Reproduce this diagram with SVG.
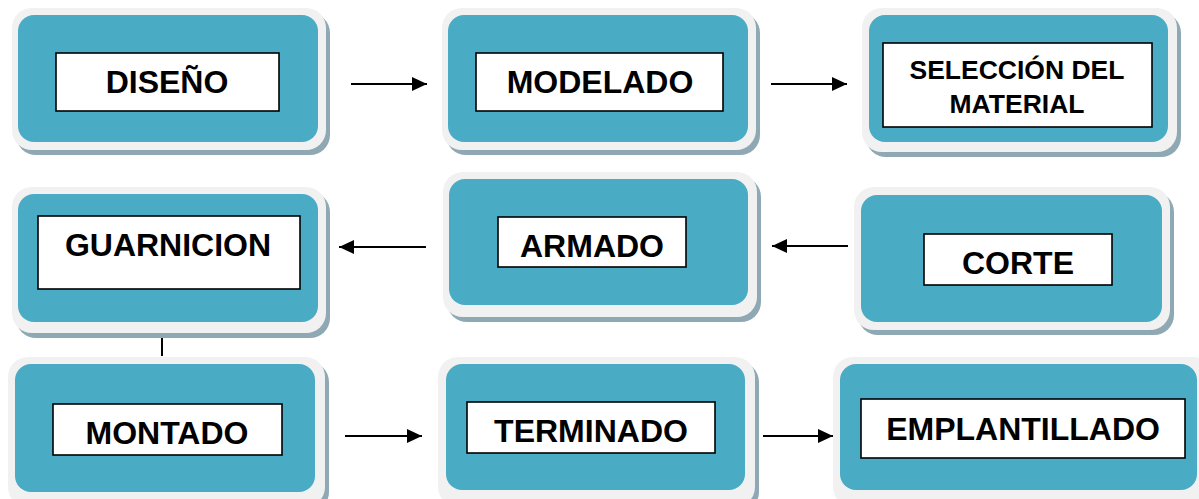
<svg xmlns="http://www.w3.org/2000/svg" width="1199" height="499" viewBox="0 0 1199 499">
<style>
.sh{fill:#8fa9b4}
.fr{fill:#f1f1f1}
.tl{fill:#4aabc5}
.bx{fill:#ffffff;stroke:#000000;stroke-width:1.6}
.t{font-family:"Liberation Sans",Arial,sans-serif;font-weight:bold;font-size:32px;fill:#000000;text-anchor:middle}
.t2{font-size:26.5px}
.c{stroke:#000000;stroke-width:2;fill:none}
</style>
<defs>
<marker id="ah" markerWidth="16" markerHeight="16" viewBox="0 0 16 16" refX="15" refY="8" orient="auto" markerUnits="userSpaceOnUse">
<path d="M0,1 L15,8 L0,15 Z" fill="#000000"/>
</marker>
</defs>
<rect width="1199" height="499" fill="#ffffff"/>

<g id="connectors">
<line class="c" x1="351" y1="84" x2="427" y2="84" marker-end="url(#ah)"/>
<line class="c" x1="771" y1="84" x2="847" y2="84" marker-end="url(#ah)"/>
<line class="c" x1="848" y1="246" x2="772" y2="246" marker-end="url(#ah)"/>
<line class="c" x1="426" y1="247" x2="339" y2="247" marker-end="url(#ah)"/>
<line class="c" x1="162" y1="338" x2="162" y2="356"/>
<line class="c" x1="345" y1="436" x2="422" y2="436" marker-end="url(#ah)"/>
<line class="c" x1="763" y1="436" x2="833" y2="436" marker-end="url(#ah)"/>
</g>

<g id="n-diseno">
<rect class="sh" x="16" y="13" width="314" height="142" rx="20"/>
<rect class="fr" x="12" y="8" width="314" height="142" rx="20"/>
<rect class="tl" x="18" y="15" width="300" height="127" rx="16"/>
<rect class="bx" x="56" y="53" width="223" height="58"/>
<text class="t" x="167" y="93">DISEÑO</text>
</g>

<g id="n-modelado">
<rect class="sh" x="446" y="13" width="314" height="142" rx="20"/>
<rect class="fr" x="442" y="8" width="314" height="142" rx="20"/>
<rect class="tl" x="448" y="15" width="300" height="127" rx="16"/>
<rect class="bx" x="476" y="53" width="247" height="58"/>
<text class="t" x="600" y="93">MODELADO</text>
</g>

<g id="n-seleccion">
<rect class="sh" x="866" y="13" width="315" height="144" rx="20"/>
<rect class="fr" x="862" y="8" width="315" height="144" rx="20"/>
<rect class="tl" x="869" y="15" width="299" height="127" rx="16"/>
<rect class="bx" x="883" y="43" width="269" height="84"/>
<text class="t t2" x="1017" y="79">SELECCIÓN DEL</text>
<text class="t t2" x="1017" y="113">MATERIAL</text>
</g>

<g id="n-guarnicion">
<rect class="sh" x="16" y="192" width="314" height="146" rx="20"/>
<rect class="fr" x="12" y="187" width="314" height="146" rx="20"/>
<rect class="tl" x="18" y="194" width="300" height="128" rx="16"/>
<rect class="bx" x="38" y="216" width="262" height="73"/>
<text class="t" x="168" y="256">GUARNICION</text>
</g>

<g id="n-armado">
<rect class="sh" x="447" y="177" width="314" height="145" rx="20"/>
<rect class="fr" x="443" y="172" width="314" height="145" rx="20"/>
<rect class="tl" x="449" y="179" width="299" height="126" rx="16"/>
<rect class="bx" x="498" y="217" width="188" height="50"/>
<text class="t" x="592" y="257">ARMADO</text>
</g>

<g id="n-corte">
<rect class="sh" x="858" y="192" width="316" height="143" rx="20"/>
<rect class="fr" x="854" y="187" width="316" height="143" rx="20"/>
<rect class="tl" x="861" y="195" width="301" height="127" rx="16"/>
<rect class="bx" x="924" y="234" width="188" height="51"/>
<text class="t" x="1018" y="274">CORTE</text>
</g>

<g id="n-montado">
<rect class="sh" x="12" y="362" width="317" height="150" rx="20"/>
<rect class="fr" x="8" y="357" width="317" height="150" rx="20"/>
<rect class="tl" x="15" y="364" width="300" height="128" rx="16"/>
<rect class="bx" x="53" y="404" width="229" height="51"/>
<text class="t" x="167" y="444">MONTADO</text>
</g>

<g id="n-terminado">
<rect class="sh" x="442" y="362" width="317" height="150" rx="20"/>
<rect class="fr" x="438" y="357" width="317" height="150" rx="20"/>
<rect class="tl" x="446" y="364" width="299" height="126" rx="16"/>
<rect class="bx" x="467" y="402" width="248" height="51"/>
<text class="t" x="591" y="442">TERMINADO</text>
</g>

<g id="n-emplantillado">
<rect class="sh" x="837" y="362" width="380" height="150" rx="20"/>
<rect class="fr" x="833" y="357" width="380" height="150" rx="20"/>
<rect class="tl" x="840" y="364" width="357" height="126" rx="16"/>
<rect class="bx" x="861" y="399" width="324" height="59"/>
<text class="t" x="1023" y="440">EMPLANTILLADO</text>
</g>
</svg>
